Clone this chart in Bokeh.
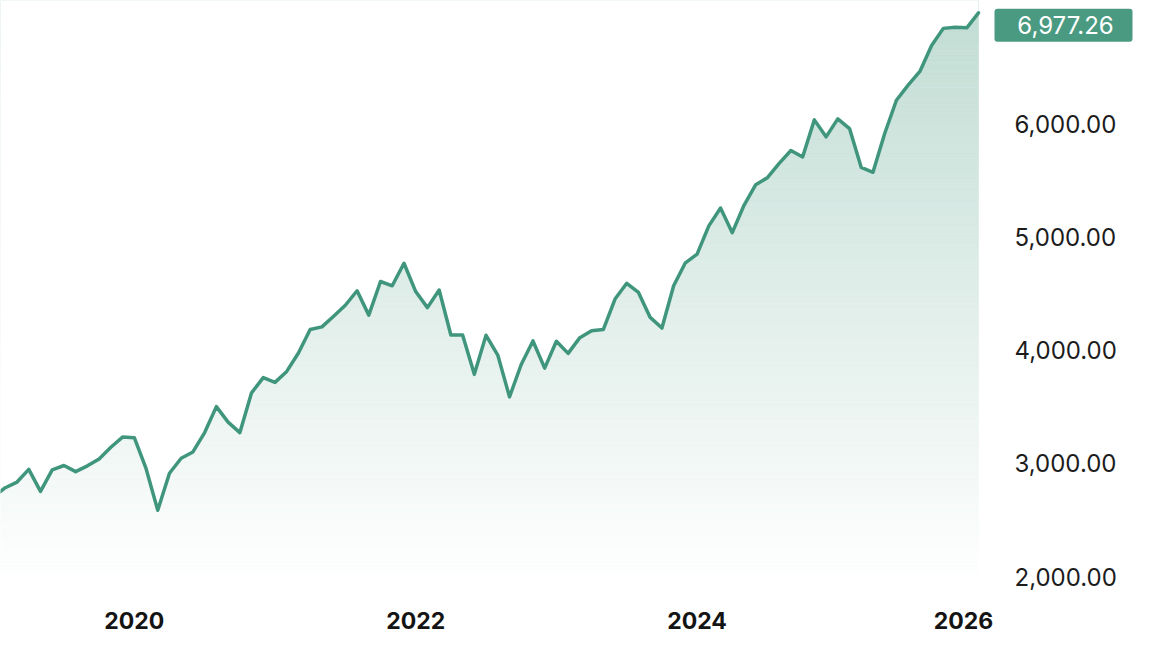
import numpy as np
from bokeh.plotting import figure
from bokeh.models import FixedTicker, CustomJSTickFormatter, ColumnDataSource
from bokeh.core.properties import value
from bokeh.embed import file_html
from bokeh.resources import INLINE

# ---- data: monthly closes, Jan 2019 .. Jan 2026 ----
start_year = 2019
closes_2019 = [2704, 2784, 2834, 2946, 2752, 2942, 2980, 2926, 2977, 3038, 3141, 3231]
closes_2020 = [3226, 2954, 2585, 2912, 3044, 3100, 3271, 3500, 3363, 3270, 3622, 3756]
closes_2021 = [3714, 3811, 3973, 4181, 4204, 4298, 4395, 4523, 4308, 4605, 4567, 4766]
closes_2022 = [4516, 4374, 4530, 4132, 4132, 3785, 4130, 3955, 3586, 3872, 4080, 3840]
closes_2023 = [4077, 3970, 4109, 4169, 4180, 4450, 4589, 4508, 4288, 4194, 4568, 4770]
closes_2024 = [4846, 5096, 5254, 5036, 5278, 5460, 5522, 5648, 5762, 5705, 6032, 5882]
closes_2025 = [6041, 5955, 5612, 5569, 5912, 6205, 6339, 6460, 6688, 6840, 6849, 6845]
closes_2026 = [6977.26]
last_label = "6,977.26"

year_ticks = [2020, 2022, 2024, 2026]
y_ticks = [2000, 3000, 4000, 5000, 6000]
y_tick_labels = ["{:,.2f}".format(v) for v in y_ticks]

values = np.array(closes_2019 + closes_2020 + closes_2021 + closes_2022 +
                  closes_2023 + closes_2024 + closes_2025 + closes_2026, dtype=float)
xs = start_year + np.arange(len(values)) / 12.0

# ---- layout ----
W, H = 1150, 642
FRAME_H = 600
PX_PER_YEAR = 140.7
PX_PER_UNIT = 0.11325
x_end_data = xs[-1]
x_start = x_end_data - 978 / PX_PER_YEAR
x_end = x_start + W / PX_PER_YEAR
y_hi = 2000 + 576 / PX_PER_UNIT
y_lo = y_hi - FRAME_H / PX_PER_UNIT
fill_bottom = 2000 - 6 / PX_PER_UNIT
x_ylabels = x_start + 1014 / PX_PER_YEAR

LINE = "#40967c"
TAG = "#4a9a82"
FONT = "Inter"

p = figure(width=W, height=H, output_backend="svg", toolbar_location=None,
           x_range=(x_start, x_end), y_range=(y_lo, y_hi),
           y_axis_location=None,
           min_border_left=0, min_border_top=0, min_border_right=0,
           min_border_bottom=H - FRAME_H)
p.background_fill_color = "white"
p.border_fill_color = "white"
p.outline_line_color = None
p.grid.visible = False

# gradient fill (horizontal bands), then white mask above the line
nb = 140
edges = np.linspace(fill_bottom, y_hi, nb + 1)
base = np.array([64, 149, 122])
cols = []
for k in range(nb):
    a = 0.33 * (k + 0.5) / nb
    c = 255 - a * (255 - base)
    cols.append("#%02x%02x%02x" % tuple(int(round(v)) for v in c))
p.quad(left=x_start - 1, right=x_end_data, bottom=edges[:-1], top=edges[1:],
       fill_color=cols, line_color=cols, line_width=0.6)

src = ColumnDataSource(dict(x=xs, y=values))
p.varea(x="x", y1="y", y2=y_hi + 500, source=src, fill_color="white")
p.line(x="x", y="y", source=src, line_color=LINE, line_width=3.5,
       line_join="round", line_cap="round")

# y tick labels (right of the data)
p.text(x=[x_ylabels] * len(y_ticks), y=y_ticks, text=y_tick_labels,
       text_font=value(FONT), text_font_size="24px", text_color="#1c1c1c",
       text_align="left", text_baseline="middle")

# last-value tag
tag_l = x_end_data + 16 / PX_PER_YEAR
tag_r = x_end_data + 154 / PX_PER_YEAR
tag_cy = values[-1] - 12.5 / PX_PER_UNIT
p.quad(left=[tag_l], right=[tag_r], bottom=[tag_cy - 16.5 / PX_PER_UNIT],
       top=[tag_cy + 16.5 / PX_PER_UNIT], fill_color=TAG, line_color=None,
       border_radius=3)
p.text(x=[(tag_l + tag_r) / 2 + 2 / PX_PER_YEAR], y=[tag_cy], text=[last_label],
       text_font=value(FONT), text_font_size="24px", text_color="white",
       text_align="center", text_baseline="middle")

# x axis
xa = p.xaxis[0]
tick_pos = [float(t) for t in year_ticks[:-1]] + [year_ticks[-1] - 15 / PX_PER_YEAR]
xa.ticker = FixedTicker(ticks=tick_pos)
xa.formatter = CustomJSTickFormatter(code="return Math.round(tick).toString()")
xa.axis_line_color = None
xa.major_tick_line_color = None
xa.minor_tick_line_color = None
xa.major_tick_out = 0
xa.major_tick_in = 0
xa.major_label_standoff = 11
xa.major_label_text_font = FONT
xa.major_label_text_font_style = "bold"
xa.major_label_text_font_size = "23px"
xa.major_label_text_color = "#141414"

open("out.html", "w").write(file_html(p, INLINE))
